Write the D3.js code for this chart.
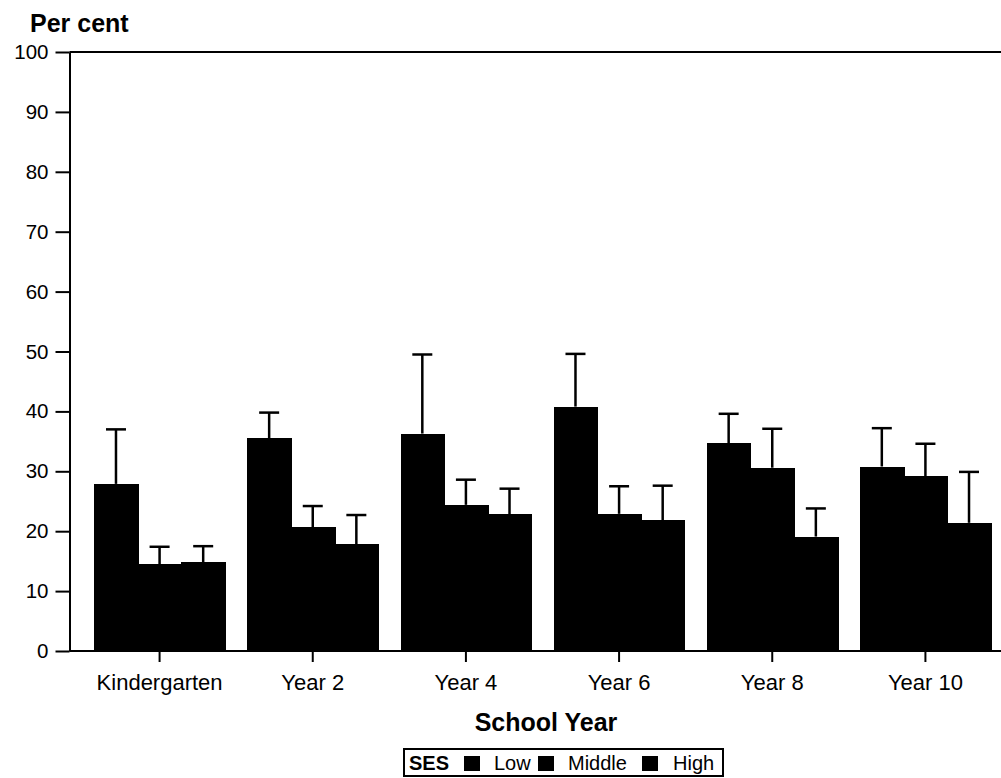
<!DOCTYPE html>
<html>
<head>
<meta charset="utf-8">
<script src="https://cdn.jsdelivr.net/npm/d3@7"></script>
<style>
  html, body { margin: 0; padding: 0; background: #fff; }
  svg { display: block; }
  text { font-family: "Liberation Sans", Arial, Helvetica, sans-serif; fill: #000; }
</style>
</head>
<body>
<svg id="chart" width="1001" height="778"></svg>
<script>
const categories = ["Kindergarten", "Year 2", "Year 4", "Year 6", "Year 8", "Year 10"];
const seriesNames = ["Low", "Middle", "High"];
const lowValues = [27.9, 35.5, 36.3, 40.8, 34.7, 30.8];
const lowUpper = [37.0, 39.8, 49.5, 49.6, 39.6, 37.2];
const middleValues = [14.5, 20.7, 24.4, 22.9, 30.6, 29.2];
const middleUpper = [17.4, 24.2, 28.6, 27.5, 37.1, 34.6];
const highValues = [14.8, 17.8, 22.8, 21.8, 19.1, 21.4];
const highUpper = [17.5, 22.7, 27.1, 27.6, 23.8, 29.9];
const yTicks = [0, 10, 20, 30, 40, 50, 60, 70, 80, 90, 100];

const values = [lowValues, middleValues, highValues];
const uppers = [lowUpper, middleUpper, highUpper];
const rows = [];
categories.forEach((c, i) => {
  seriesNames.forEach((s, j) => {
    rows.push({ cat: c, series: s, value: values[j][i], upper: uppers[j][i] });
  });
});

const svg = d3.select("#chart");
const axisX = 69.5, plotTop = 52, plotBottom = 651, plotRight = 1001;
const FONT = "'Liberation Sans', Arial, Helvetica, sans-serif";

const y = d3.scaleLinear().domain([0, 100]).range([plotBottom, plotTop]);
const x0 = d3.scaleBand().domain(categories).range([83, 1002])
  .paddingInner(0.146).paddingOuter(0.073);
const x1 = d3.scaleBand().domain(seriesNames).range([0, x0.bandwidth()]).padding(0);

// bars
svg.append("g").attr("shape-rendering", "crispEdges")
  .selectAll("rect").data(rows).join("rect")
  .attr("x", d => x0(d.cat) + x1(d.series))
  .attr("y", d => y(d.value))
  .attr("width", x1.bandwidth() + 1)
  .attr("height", d => y(0) - y(d.value))
  .attr("fill", "#000");

// error bars (upper only)
const eb = svg.append("g").attr("stroke", "#000").attr("stroke-width", 2.5);
eb.selectAll("line.v").data(rows).join("line").attr("class", "v")
  .attr("x1", d => x0(d.cat) + x1(d.series) + x1.bandwidth() / 2)
  .attr("x2", d => x0(d.cat) + x1(d.series) + x1.bandwidth() / 2)
  .attr("y1", d => y(d.value))
  .attr("y2", d => y(d.upper));
eb.selectAll("line.c").data(rows).join("line").attr("class", "c")
  .attr("x1", d => x0(d.cat) + x1(d.series) + x1.bandwidth() / 2 - 10)
  .attr("x2", d => x0(d.cat) + x1(d.series) + x1.bandwidth() / 2 + 10)
  .attr("y1", d => y(d.upper))
  .attr("y2", d => y(d.upper));

// frame top line
svg.append("line").attr("x1", axisX).attr("x2", plotRight)
  .attr("y1", plotTop).attr("y2", plotTop)
  .attr("stroke", "#000").attr("stroke-width", 2);

// y axis
const yAxis = svg.append("g").attr("transform", `translate(${axisX},0)`)
  .call(d3.axisLeft(y).tickValues(yTicks).tickSize(14).tickPadding(7).tickSizeOuter(0));
yAxis.select(".domain").attr("stroke-width", 2);
yAxis.selectAll(".tick line").attr("stroke-width", 2);
yAxis.selectAll(".tick text").attr("font-size", 20.5).style("font-family", FONT);

// x axis
const xAxis = svg.append("g").attr("transform", `translate(0,${plotBottom})`)
  .call(d3.axisBottom(x0).tickSize(11).tickPadding(12).tickSizeOuter(0));
xAxis.select(".domain").attr("d", `M${axisX},0H${plotRight}`).attr("stroke-width", 2);
xAxis.selectAll(".tick line").attr("stroke-width", 2);
xAxis.selectAll(".tick text").attr("font-size", 22).style("font-family", FONT);

// titles
svg.append("text").attr("x", 30).attr("y", 32)
  .attr("font-size", 25).attr("font-weight", "bold").text("Per cent");
svg.append("text").attr("x", 546).attr("y", 731).attr("text-anchor", "middle")
  .attr("font-size", 25).attr("font-weight", "bold").text("School Year");

// legend
const lg = svg.append("g");
lg.append("rect").attr("x", 404).attr("y", 749).attr("width", 319).attr("height", 27)
  .attr("fill", "#fff").attr("stroke", "#000").attr("stroke-width", 2);
lg.append("text").attr("x", 409).attr("y", 770).attr("font-size", 20)
  .attr("font-weight", "bold").text("SES");
const legendItems = [
  { name: seriesNames[0], sx: 464, tx: 494 },
  { name: seriesNames[1], sx: 538, tx: 568 },
  { name: seriesNames[2], sx: 642, tx: 673 }
];
lg.selectAll("rect.sw").data(legendItems).join("rect").attr("class", "sw")
  .attr("x", d => d.sx).attr("y", 756).attr("width", 16).attr("height", 15).attr("fill", "#000");
lg.selectAll("text.lb").data(legendItems).join("text").attr("class", "lb")
  .attr("x", d => d.tx).attr("y", 770).attr("font-size", 20).text(d => d.name);
</script>
</body>
</html>
